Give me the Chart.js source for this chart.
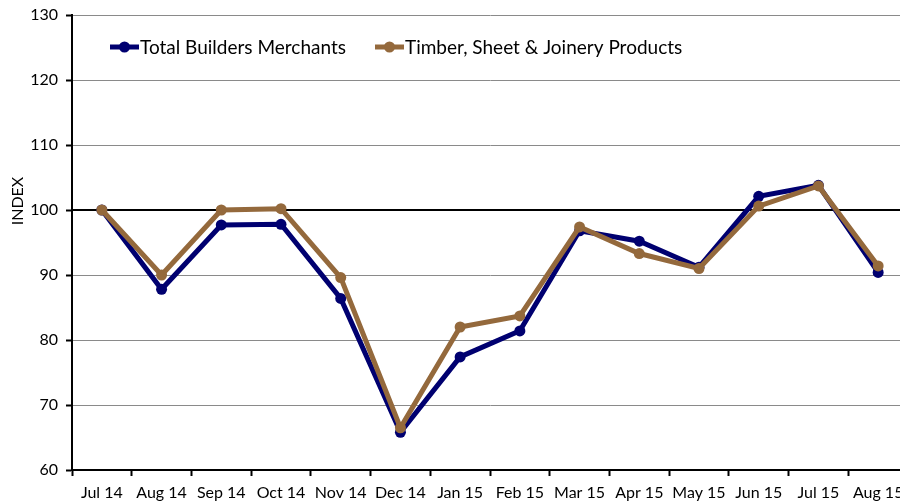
<!DOCTYPE html>
<html>
<head>
<meta charset="utf-8">
<script src="https://cdn.jsdelivr.net/npm/chart.js@4.4.1/dist/chart.umd.min.js"></script>
<style>
html,body{margin:0;padding:0;overflow:hidden;background:#fff;width:900px;height:504px;}
#wrap{position:absolute;left:0;top:0;width:920px;height:504px;}
</style>
</head>
<body>
<div id="wrap"><canvas id="c" width="920" height="504"></canvas></div>
<script>
const categories = ["Jul 14","Aug 14","Sep 14","Oct 14","Nov 14","Dec 14","Jan 15","Feb 15","Mar 15","Apr 15","May 15","Jun 15","Jul 15","Aug 15"];
const totalBuilders = [100.0, 87.8, 97.7, 97.8, 86.4, 65.8, 77.4, 81.4, 96.8, 95.2, 91.2, 102.1, 103.8, 90.4];
const timberSheet = [100.0, 90.0, 100.0, 100.2, 89.6, 66.5, 82.0, 83.7, 97.4, 93.3, 91.0, 100.6, 103.7, 91.4];
const baseLine = 100;
const seriesNames = ["Total Builders Merchants", "Timber, Sheet & Joinery Products"];
const axisTitle = "INDEX";
const FONT = "Lato, 'Open Sans', sans-serif";

const baseLinePlugin = {
  id: 'baseLine',
  beforeDatasetsDraw(chart) {
    const {ctx, chartArea, scales} = chart;
    const y = scales.y.getPixelForValue(baseLine);
    ctx.save();
    ctx.strokeStyle = '#000';
    ctx.lineWidth = 2.2;
    ctx.beginPath();
    ctx.moveTo(chartArea.left, y);
    ctx.lineTo(chartArea.right, y);
    ctx.stroke();
    ctx.restore();
  }
};

const legendPlugin = {
  id: 'customLegend',
  afterDraw(chart) {
    const {ctx} = chart;
    const items = [{x:110, ds:0},{x:375, ds:1}];
    const y = 47;
    ctx.save();
    items.forEach(it => {
      const ds = chart.data.datasets[it.ds];
      ctx.strokeStyle = ds.borderColor;
      ctx.lineWidth = 5;
      ctx.beginPath();
      ctx.moveTo(it.x, y);
      ctx.lineTo(it.x + 29, y);
      ctx.stroke();
      ctx.fillStyle = ds.borderColor;
      ctx.beginPath();
      ctx.arc(it.x + 14.5, y, 5.5, 0, Math.PI*2);
      ctx.fill();
      ctx.fillStyle = '#000';
      ctx.font = "19px " + FONT;
      ctx.textBaseline = 'middle';
      ctx.textAlign = 'left';
      ctx.fillText(ds.label, it.x + 30, y + 1);
    });
    // y-axis title
    ctx.translate(18, 201);
    ctx.rotate(-Math.PI/2);
    ctx.font = "16px " + FONT;
    ctx.textAlign = 'center';
    ctx.textBaseline = 'middle';
    ctx.fillStyle = '#000';
    ctx.fillText(axisTitle, 0, 0);
    ctx.restore();
  }
};

new Chart(document.getElementById('c'), {
  type: 'line',
  data: {
    labels: categories,
    datasets: [
      {
        label: seriesNames[0],
        data: totalBuilders,
        borderColor: '#000070',
        backgroundColor: '#000070',
        borderWidth: 5,
        pointRadius: 5.5,
        pointHoverRadius: 5.5,
        pointBorderWidth: 0,
        tension: 0,
        order: 2
      },
      {
        label: seriesNames[1],
        data: timberSheet,
        borderColor: '#94693C',
        backgroundColor: '#94693C',
        borderWidth: 5,
        pointRadius: 5.5,
        pointHoverRadius: 5.5,
        pointBorderWidth: 0,
        tension: 0,
        order: 1
      }
    ]
  },
  options: {
    responsive: false,
    animation: false,
    devicePixelRatio: 1,
    layout: {padding: {left: 0, right: 12, top: 15, bottom: 0}},
    plugins: {legend: {display: false}, tooltip: {enabled: false}},
    scales: {
      x: {
        type: 'category',
        offset: true,
        grid: {display: true, drawOnChartArea: false, drawTicks: true, tickLength: 6, tickColor: '#000', offset: true, tickWidth: 2},
        border: {display: true, color: '#000', width: 2},
        ticks: {color: '#000', font: {family: FONT, size: 16}, padding: 7, maxRotation: 0, autoSkip: false},
        afterFit(scale) { scale.height = 34; scale.paddingLeft = 0; scale.paddingRight = 0; }
      },
      y: {
        min: 60, max: 130,
        ticks: {stepSize: 10, color: '#000', font: {family: FONT, size: 16}, padding: 8},
        grid: {color: '#8a8a8a', lineWidth: 1, tickLength: 6, tickColor: '#000', tickWidth: 2},
        border: {display: true, color: '#000', width: 2},
        afterFit(scale) { scale.width = 72; scale.paddingTop = 0; scale.paddingBottom = 0; }
      }
    }
  },
  plugins: [baseLinePlugin, legendPlugin]
});
</script>
</body>
</html>
